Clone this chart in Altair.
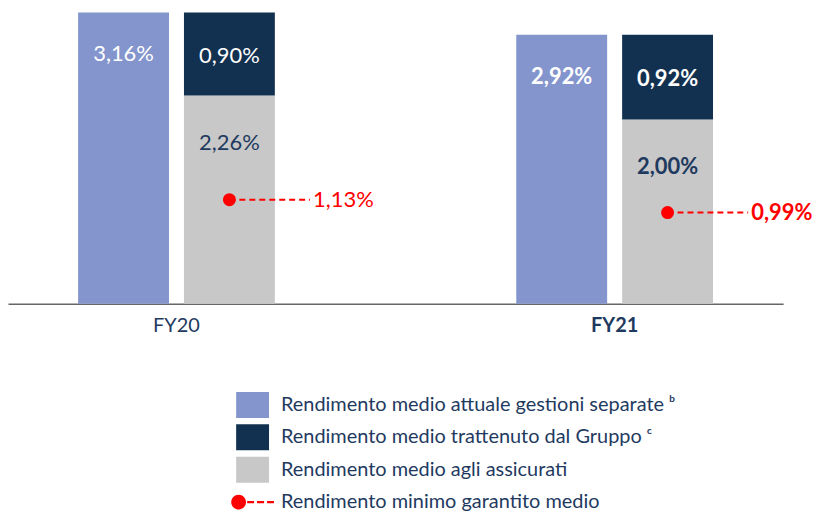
import altair as alt
import pandas as pd

# ---- data ----
years = ["FY20", "FY21"]
rend_attuale = [3.16, 2.92]      # Rendimento medio attuale gestioni separate
rend_trattenuto = [0.90, 0.92]   # Rendimento medio trattenuto dal Gruppo
rend_assicurati = [2.26, 2.00]   # Rendimento medio agli assicurati
rend_minimo = [1.13, 0.99]       # Rendimento minimo garantito medio

S1 = "Rendimento medio attuale gestioni separate \u1d47"
S2 = "Rendimento medio trattenuto dal Gruppo \u1d9c"
S3 = "Rendimento medio agli assicurati"
S4 = "Rendimento minimo garantito medio"
series = [S1, S2, S3, S4]

BLUE = "#8395CC"
NAVY = "#12304F"
GRAY = "#C8C8C8"
RED = "#FF0000"
TXT = "#1F3A5F"
FONT = "Lato"


def fmt(v):
    return f"{v:.2f}".replace(".", ",") + "%"


base = pd.DataFrame({
    "year": years,
    "attuale": rend_attuale,
    "trattenuto": rend_trattenuto,
    "assicurati": rend_assicurati,
    "minimo": rend_minimo,
})
base["l_att"] = [fmt(v) for v in rend_attuale]
base["l_tra"] = [fmt(v) for v in rend_trattenuto]
base["l_ass"] = [fmt(v) for v in rend_assicurati]
base["l_min"] = [fmt(v) for v in rend_minimo]
base["mid"] = [a + t / 2 for a, t in zip(rend_assicurati, rend_trattenuto)]

rows = []
for i, y in enumerate(years):
    rows.append({"year": y, "col": "A", "series": S1, "value": rend_attuale[i], "ord": 1})
    rows.append({"year": y, "col": "B", "series": S3, "value": rend_assicurati[i], "ord": 1})
    rows.append({"year": y, "col": "B", "series": S2, "value": rend_trattenuto[i], "ord": 2})
bars_df = pd.DataFrame(rows)
legend_df = pd.DataFrame({"series": series})

RECT = "M-1,-0.79H1V0.79H-1Z"
DOTDASH = ("M-1.3,0A0.45,0.45 0 1,0 -0.4,0A0.45,0.45 0 1,0 -1.3,0Z"
           "M-0.33,-0.07H0.09V0.07H-0.33Z"
           "M0.27,-0.07H0.7V0.07H0.27Z"
           "M0.88,-0.07H1.3V0.07H0.88Z")

legend_cfg = dict(
    orient="none", legendX=229, legendY=381, title=None,
    symbolSize=1089, symbolStrokeWidth=0, symbolOpacity=1, labelFontSize=20, labelFont=FONT,
    labelColor=TXT, labelOffset=12, rowPadding=2.5, labelLimit=700,
)

color_scale = alt.Scale(domain=series, range=[BLUE, NAVY, GRAY, RED])
shape_scale = alt.Scale(domain=series, range=[RECT, RECT, RECT, DOTDASH])

x_enc = alt.X(
    "year:N",
    sort=years,
    scale=alt.Scale(domain=years, paddingInner=0.551, paddingOuter=0.16),
    axis=alt.Axis(
        title=None, labelAngle=0, ticks=False, domainColor="#666666",
        domainWidth=1.5, labelFontSize=20, labelFont=FONT, labelColor=TXT,
        labelPadding=12,
        labelFontWeight={"expr": "datum.value == 'FY21' ? 'bold' : 'normal'"},
    ),
)
xoff = alt.XOffset("col:N", scale=alt.Scale(domain=["A", "B"], paddingInner=0.1415, paddingOuter=0))
y_scale = alt.Scale(domain=[0, 3.2], nice=False, zero=True)

weight = {"expr": "datum.year == 'FY21' ? 'bold' : 'normal'"}

bars = alt.Chart(bars_df).mark_bar().encode(
    x=x_enc,
    xOffset=xoff,
    y=alt.Y("value:Q", stack="zero", scale=y_scale, axis=None),
    color=alt.Color("series:N", scale=color_scale, legend=alt.Legend(**legend_cfg)),
    order=alt.Order("ord:Q"),
)

legend_layer = alt.Chart(legend_df).mark_point(filled=True, opacity=0).encode(
    color=alt.Color("series:N", scale=color_scale, legend=alt.Legend(**legend_cfg)),
    shape=alt.Shape("series:N", scale=shape_scale, legend=alt.Legend(**legend_cfg)),
)

bt = alt.Chart(base)

lab_att = bt.transform_calculate(col="'A'").mark_text(
    dy=42, color="white", fontSize=22, font=FONT, fontWeight=weight
).encode(x="year:N", xOffset="col:N", y="attuale:Q", text="l_att:N")

lab_tra = bt.transform_calculate(col="'B'").mark_text(
    dy=2, color="white", fontSize=22, font=FONT, fontWeight=weight
).encode(x="year:N", xOffset="col:N", y="mid:Q", text="l_tra:N")

lab_ass = bt.transform_calculate(col="'B'").mark_text(
    dy=48, color=TXT, fontSize=22, font=FONT, fontWeight=weight
).encode(x="year:N", xOffset="col:N", y="assicurati:Q", text="l_ass:N")

dash = bt.transform_calculate(col="'B'").mark_rule(
    color=RED, strokeDash=[6, 4], strokeWidth=2, x2Offset=134
).encode(x="year:N", xOffset="col:N", x2="year:N", y="minimo:Q")

dots = bt.transform_calculate(col="'B'").mark_point(
    filled=True, color=RED, size=170, opacity=1
).encode(x="year:N", xOffset="col:N", y="minimo:Q")

lab_min = bt.transform_calculate(col="'B'").mark_text(
    align="left", dx=84, color=RED, fontSize=22, font=FONT, fontWeight=weight
).encode(x="year:N", xOffset="col:N", y="minimo:Q", text="l_min:N")

chart = alt.layer(
    bars, legend_layer, lab_att, lab_tra, lab_ass, dash, dots, lab_min
).properties(
    width=778, height=296, padding=0
).configure_view(stroke=None)

chart.save("out.html", embed_options={"renderer": "svg", "actions": False})
